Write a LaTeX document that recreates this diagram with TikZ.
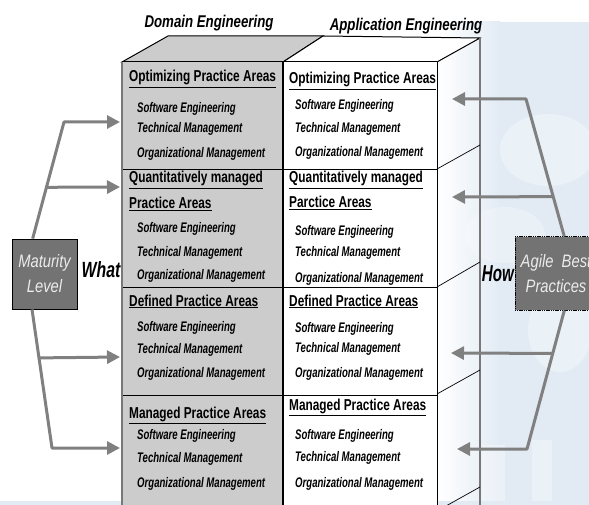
\documentclass[tikz,border=0pt]{standalone}
\usepackage{fontspec}
\setmainfont{Liberation Sans}
\newfontfamily\headsans[FakeStretch=0.75]{Liberation Sans}
\newfontfamily\itemsans[FakeStretch=0.69]{Liberation Sans}
\newfontfamily\titlesans[FakeStretch=0.78]{Liberation Sans}
\newfontfamily\narrowsans[FakeStretch=0.82]{Liberation Sans}
\newfontfamily\tightsans[FakeStretch=0.72]{Liberation Sans}
\newfontfamily\tightersans[FakeStretch=0.66]{Liberation Sans}
\usetikzlibrary{arrows.meta,calc}

\definecolor{facegray}{RGB}{204,204,204}
\definecolor{linkgray}{RGB}{128,128,128}
\definecolor{boxgray}{RGB}{115,115,115}
\definecolor{labelwhite}{RGB}{236,236,236}
\definecolor{washblue}{RGB}{226,235,244}
\definecolor{edgegray}{RGB}{120,120,120}

\tikzset{
  head/.style={anchor=base west, inner sep=0pt,
    font=\headsans\bfseries\fontsize{15.8}{17}\selectfont},
  item/.style={anchor=base west, inner sep=0pt,
    font=\itemsans\bfseries\itshape\fontsize{13.9}{15}\selectfont},
  title/.style={inner sep=0pt,
    font=\titlesans\bfseries\itshape\fontsize{17}{19}\selectfont},
  query/.style={inner sep=0pt,
    font=\tightsans\bfseries\itshape\fontsize{22}{24}\selectfont},
  sourcebox/.style={fill=boxgray, text=labelwhite, align=center,
    inner sep=0pt, font=\narrowsans\itshape\fontsize{18}{25}\selectfont},
  link/.style={draw=linkgray, line width=3pt, line join=round,
    -{Triangle[length=13pt,width=13pt]}},
  faceline/.style={draw=black, line width=1pt},
}

\begin{document}
\begin{tikzpicture}[x=1pt,y=-1pt]
\useasboundingbox (0,0) rectangle (589,505);
\clip (0,0) rectangle (589,505);

% faint watermark wash behind the right side
\shade[left color=white, right color=washblue] (437,22) rectangle (500,505);
\fill[washblue] (500,22) rectangle (589,505);
\fill[white,opacity=.3] (548,150) ellipse [x radius=48, y radius=36];
\fill[white,opacity=.25] (505,235) ellipse [x radius=40, y radius=28];
\fill[white,opacity=.3] (560,330) ellipse [x radius=32, y radius=42];
\fill[white,opacity=.3] (482,445) rectangle (505,505);
\fill[white,opacity=.3] (532,440) rectangle (552,505);
\fill[washblue] (0,501) rectangle (589,505);

% question label on the left
\node[query] (what) at (101,270) {What};

% top face
\coordinate (fl) at (122,62);
\coordinate (fm) at (283,62);
\coordinate (fr) at (437,62);
\coordinate (bl) at (168,36);
\coordinate (bm) at (323,36);
\coordinate (br) at (480,38);
\filldraw[fill=facegray, faceline] (fl) -- (bl) -- (bm) -- (fm) -- cycle;
\filldraw[fill=white, faceline] (fm) -- (bm) -- (br) -- (fr) -- cycle;

% front face columns
\fill[facegray] (122,62) rectangle (283,515);
\fill[white] (283,62) rectangle (437,515);
\draw[faceline] (122,62) -- (437,62);
\foreach \yy in {170,287,395}
  \draw[faceline] (122,\yy) -- (437,\yy);
\draw[draw=edgegray, line width=1.6pt] (122,62) -- (122,515);
\draw[line width=1.6pt] (283,62) -- (283,515);
\draw[faceline] (437,62) -- (437,515);

% side face
\draw[draw=edgegray, line width=1.2pt] (br) -- (480,515);
\foreach \fy/\by in {169/145,287/262,394/370,511/487}
  \draw[line width=0.7pt] (437,\fy) -- (480,\by);

% column titles
\node[title] (domain) at (209,23) {Domain Engineering};
\node[title] (appl) at (406,26) {Application Engineering};

% domain engineering column
\foreach \n/\yy/\t in {
  lh1/82/Optimizing Practice Areas,
  lh2/183/Quantitatively managed,
  lh2b/209/Practice Areas,
  lh3/306/Defined Practice Areas,
  lh4/418/Managed Practice Areas}
  \node[head] (\n) at (129,\yy) {\underline{\t}};
\foreach \n/\yy/\t in {
  la1/113/Software Engineering, lb1/133/Technical Management, lc1/158/Organizational Management,
  la2/233/Software Engineering, lb2/256/Technical Management, lc2/279/Organizational Management,
  la3/331/Software Engineering, lb3/353/Technical Management, lc3/377/Organizational Management,
  la4/439/Software Engineering, lb4/462/Technical Management, lc4/487/Organizational Management}
  \node[item] (\n) at (137,\yy) {\t};

% application engineering column
\foreach \n/\yy/\t in {
  rh1/84/Optimizing Practice Areas,
  rh2/183/Quantitatively managed,
  rh2b/208/Parctice Areas,
  rh3/306/Defined Practice Areas,
  rh4/410/Managed Practice Areas}
  \node[head] (\n) at (289,\yy) {\underline{\t}};
\foreach \n/\yy/\t in {
  ra1/110/Software Engineering, rb1/133/Technical Management, rc1/157/Organizational Management,
  ra2/236/Software Engineering, rb2/257/Technical Management, rc2/282/Organizational Management,
  ra3/332/Software Engineering, rb3/352/Technical Management, rc3/377/Organizational Management,
  ra4/439/Software Engineering, rb4/461/Technical Management, rc4/487/Organizational Management}
  \node[item] (\n) at (295,\yy) {\t};

% question label on the right
\node[query, font=\tightersans\bfseries\itshape\fontsize{23}{24}\selectfont] (how) at (498,274) {How};

% source boxes
\node[sourcebox, draw=black, line width=0.8pt, minimum width=65pt, minimum height=70pt]
  (ml) at (44.5,274) {Maturity\\Level};
\node[sourcebox, draw=black, line width=1pt, dash pattern=on 1.2pt off 0.6pt,
  minimum width=82pt, minimum height=73pt] (ab) at (556,273.5) {Agile\ \ Best\\Practices};

% targets on the front face
\coordinate (t1) at (120,122);
\coordinate (t2) at (120,187);
\coordinate (t3) at (120,357);
\coordinate (t4) at (120,448);
\coordinate (u1) at (452,99);
\coordinate (u2) at (452,197);
\coordinate (u3) at (451,353);
\coordinate (u4) at (457,449);

% maturity level connectors
\coordinate (mlu) at ($(ml.north west)!0.32!(ml.north east)$);
\coordinate (mld) at ($(ml.south west)!0.31!(ml.south east)$);
\coordinate (mlk1) at (64,122);
\coordinate (mlk2) at (52,448);
\draw[link] (mlu) -- (mlk1) -- (t1);
\draw[link] ($(mlu)!0.44!(mlk1)$) -- (t2);
\draw[link] (mld) -- (mlk2) -- (t4);
\draw[link] ($(mld)!0.35!(mlk2)$) -- (t3);

% agile best practices connectors
\coordinate (abu) at ($(ab.north west)!0.60!(ab.north east)$);
\coordinate (abd) at ($(ab.south west)!0.60!(ab.south east)$);
\coordinate (abk1) at (526,99);
\coordinate (abk2) at (527,449);
\draw[link] (abu) -- (abk1) -- (u1);
\draw[link] ($(abu)!0.29!(abk1)$) -- (u2);
\draw[link] (abd) -- (abk2) -- (u4);
\draw[link] ($(abd)!0.31!(abk2)$) -- (u3);
\end{tikzpicture}
\end{document}
